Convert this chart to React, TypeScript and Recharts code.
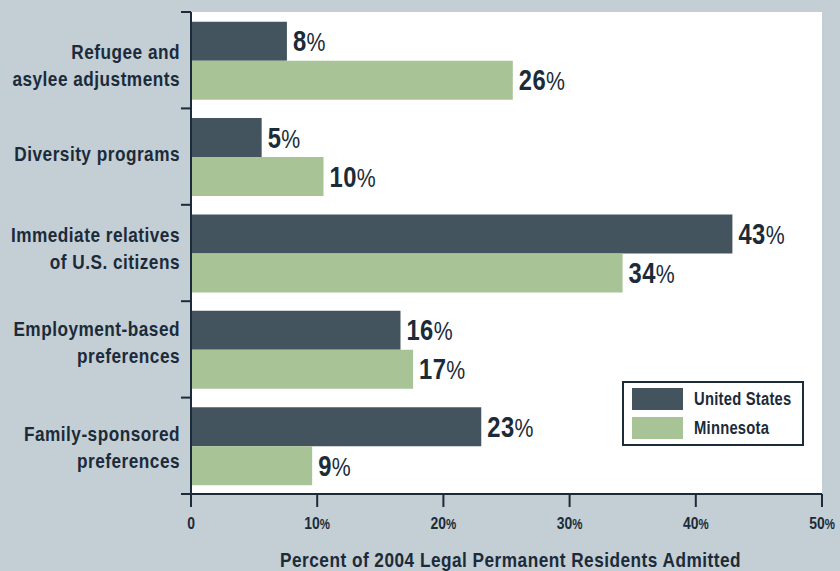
import React from 'react';
import { BarChart, Bar, XAxis, YAxis, CartesianGrid, Legend, LabelList } from 'recharts';

const categories = [
  'Refugee and\nasylee adjustments',
  'Diversity programs',
  'Immediate relatives\nof U.S. citizens',
  'Employment-based\npreferences',
  'Family-sponsored\npreferences',
];
// bar lengths
const unitedStates = [7.6, 5.6, 42.9, 16.6, 23.0];
const minnesota = [25.5, 10.5, 34.2, 17.6, 9.6];
// printed labels
const usLabels = [8, 5, 43, 16, 23];
const mnLabels = [26, 10, 34, 17, 9];
const xTicks = [0, 10, 20, 30, 40, 50];

const data = categories.map((name, i) => ({
  name,
  us: unitedStates[i],
  mn: minnesota[i],
  usLabel: usLabels[i],
  mnLabel: mnLabels[i],
}));

const FONT = '"Liberation Sans", Arial, sans-serif';
const SQUEEZE = 0.82; // fake a condensed face
const INK = '#1b2b39';
const US_COLOR = '#43545f';
const MN_COLOR = '#a8c497';
const BG = '#c4ced5';

// small per-row nudges of the category text, as in the original
const labelShift = [10, 0, 0, -2, 6];

const YTick = (props: any) => {
  const { x, y, payload, index } = props;
  const half = payload && payload.offset ? payload.offset : 48.2;
  const lines: string[] = String(payload.value).split('\n');
  const base = (lines.length > 1 ? -11 : 4) + (lines.length > 1 ? labelShift[index] || 0 : 0);
  return (
    <g>
      <line x1={x} x2={x + 10} y1={y - half} y2={y - half} stroke={INK} strokeWidth={2} />
      {index === categories.length - 1 && (
        <line x1={x} x2={x + 10} y1={y + half} y2={y + half} stroke={INK} strokeWidth={2} />
      )}
      <text
        transform={`translate(${x - 1},${y + base}) scale(${SQUEEZE},1)`}
        textAnchor="end"
        fill={INK}
        fontFamily={FONT}
        fontWeight="bold"
        fontSize={21}
        letterSpacing={0.6}
      >
        {lines.map((l, i) => (
          <tspan key={i} x={0} dy={i === 0 ? 0 : 27}>
            {l}
          </tspan>
        ))}
      </text>
    </g>
  );
};

const XTick = (props: any) => {
  const { x, y, payload } = props;
  const v = payload.value;
  return (
    <text
      transform={`translate(${x},${y + 20}) scale(${SQUEEZE},1)`}
      textAnchor="middle"
      fill={INK}
      fontFamily={FONT}
      fontWeight="bold"
      fontSize={17}
    >
      {v}
      {v !== 0 && <tspan fontSize={14}>%</tspan>}
    </text>
  );
};

const ValueLabel = (props: any) => {
  const { x, y, width, height, value } = props;
  return (
    <text
      transform={`translate(${x + width + 6},${y + height / 2 + 10}) scale(${SQUEEZE},1)`}
      fill={INK}
      fontFamily={FONT}
      fontWeight="bold"
      fontSize={29}
      letterSpacing={0.5}
    >
      {value}
      <tspan fontSize={26} fontWeight="normal">%</tspan>
    </text>
  );
};

const legendOrder = ['United States', 'Minnesota'];

const LegendBox = (props: any) => {
  const items = [...(props.payload || [])].sort(
    (a: any, b: any) => legendOrder.indexOf(a.value) - legendOrder.indexOf(b.value)
  );
  return (
    <div
      style={{
        width: 182,
        height: 65,
        boxSizing: 'border-box',
        border: `2px solid ${INK}`,
        background: '#fff',
        padding: '5px 8px',
      }}
    >
      {items.map((it: any, i: number) => (
        <div key={i} style={{ display: 'flex', alignItems: 'center', height: 22, marginBottom: i === 0 ? 7 : 0 }}>
          <div style={{ width: 51, height: 22, background: it.color, flex: 'none' }} />
          <span
            style={{
              marginLeft: 11,
              fontFamily: FONT,
              fontWeight: 'bold',
              fontSize: 18,
              letterSpacing: 0.3,
              color: INK,
              whiteSpace: 'nowrap',
              display: 'inline-block',
              transform: `scaleX(${SQUEEZE})`,
              transformOrigin: 'left center',
            }}
          >
            {it.value}
          </span>
        </div>
      ))}
    </div>
  );
};

const AxisTitle = (props: any) => {
  const { viewBox } = props;
  const cx = viewBox.x + viewBox.width / 2 + 4;
  return (
    <text
      transform={`translate(${cx},${viewBox.y + viewBox.height - 4}) scale(${SQUEEZE},1)`}
      textAnchor="middle"
      fill={INK}
      fontFamily={FONT}
      fontWeight="bold"
      fontSize={21}
      letterSpacing={0.6}
    >
      Percent of 2004 Legal Permanent Residents Admitted
    </text>
  );
};

export default function App() {
  return (
    <div style={{ position: 'absolute', left: 0, top: 0, width: 840, height: 571, background: BG }}>
      <BarChart
        width={840}
        height={571}
        data={data}
        layout="vertical"
        margin={{ top: 12, right: 18, bottom: 0, left: 0 }}
        barCategoryGap="10%"
        barGap={0}
      >
        <CartesianGrid fill="#fff" stroke="none" horizontal={false} vertical={false} />
        <XAxis
          type="number"
          domain={[0, 50]}
          ticks={xTicks}
          interval={0}
          height={77}
          axisLine={{ stroke: INK, strokeWidth: 2 }}
          tickLine={{ stroke: INK, strokeWidth: 2 }}
          tickSize={13}
          tick={<XTick />}
          label={<AxisTitle />}
        />
        <YAxis
          type="category"
          dataKey="name"
          width={191}
          axisLine={{ stroke: INK, strokeWidth: 2 }}
          tickLine={false}
          tickSize={10}
          tickMargin={0}
          interval={0}
          tick={<YTick />}
        />
        <Legend
          layout="vertical"
          align="center"
          verticalAlign="middle"
          itemSorter={null}
          content={<LegendBox />}
          wrapperStyle={{ position: 'absolute', left: 622, top: 381, width: 182, height: 65 }}
        />
        <Bar dataKey="us" name="United States" fill={US_COLOR} isAnimationActive={false}>
          <LabelList dataKey="usLabel" content={<ValueLabel />} />
        </Bar>
        <Bar dataKey="mn" name="Minnesota" fill={MN_COLOR} isAnimationActive={false}>
          <LabelList dataKey="mnLabel" content={<ValueLabel />} />
        </Bar>
      </BarChart>
    </div>
  );
}
